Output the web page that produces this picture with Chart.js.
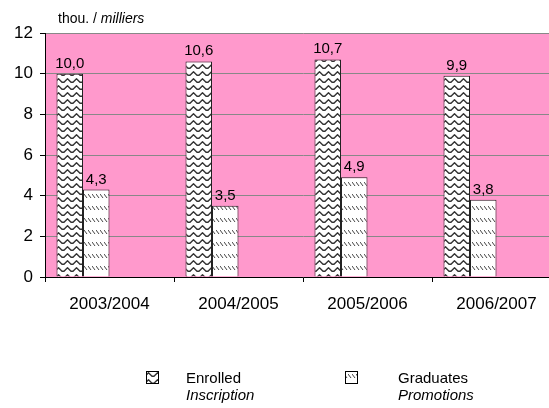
<!DOCTYPE html>
<html>
<head>
<meta charset="utf-8">
<script src="https://cdn.jsdelivr.net/npm/chart.js@4"></script>
<style>
  html, body { margin: 0; padding: 0; background: #fff; overflow: hidden; }
  #wrap { width: 562px; height: 408px; }
</style>
</head>
<body>
<div id="wrap"><canvas id="myChart" width="562" height="408"></canvas></div>
<script>
// data
var categories = ['2003/2004', '2004/2005', '2005/2006', '2006/2007'];
var enrolled = [10.0, 10.6, 10.7, 9.9];
var graduates = [4.3, 3.5, 4.9, 3.8];
var yTicks = [0, 2, 4, 6, 8, 10, 12];

var FONT = 'Liberation Sans, Arial, sans-serif';

// fill patterns like the excel ones
function wavePattern(ctx) {
  var c = document.createElement('canvas');
  c.width = 9; c.height = 7;
  var g = c.getContext('2d');
  g.fillStyle = '#fff';
  g.fillRect(0, 0, 9, 7);
  g.strokeStyle = '#333';
  g.lineWidth = 1.4;
  g.lineJoin = 'round';
  g.beginPath();
  g.moveTo(-1, 5.2);
  g.lineTo(1, 5.2);
  g.lineTo(4.5, 1.8);
  g.lineTo(8, 5.2);
  g.lineTo(10, 5.2);
  g.stroke();
  return ctx.createPattern(c, 'repeat');
}
function dashPattern(ctx) {
  var c = document.createElement('canvas');
  c.width = 4; c.height = 12;
  var g = c.getContext('2d');
  g.fillStyle = '#fff';
  g.fillRect(0, 0, 4, 12);
  g.strokeStyle = '#444';
  g.lineWidth = 1;
  g.beginPath();
  g.moveTo(0, 2); g.lineTo(3, 6);
  g.stroke();
  return ctx.createPattern(c, 'repeat');
}

var canvas = document.getElementById('myChart');
var cx = canvas.getContext('2d');
var pWave = wavePattern(cx);
var pDash = dashPattern(cx);

function fmt(v) { return v.toFixed(1).replace('.', ','); }

// pink plot background
var plotBg = {
  id: 'plotBg',
  beforeDraw: function (chart) {
    var a = chart.chartArea, c = chart.ctx;
    c.save();
    c.fillStyle = '#FF99CC';
    c.fillRect(a.left, a.top, a.right - a.left, a.bottom - a.top);
    c.restore();
  }
};

// value labels, title and legend
var extras = {
  id: 'extras',
  afterDatasetsDraw: function (chart) {
    var c = chart.ctx;
    c.save();
    c.fillStyle = '#000';
    c.font = '15px ' + FONT;
    c.textAlign = 'center';
    c.textBaseline = 'alphabetic';
    [0, 1].forEach(function (di) {
      var meta = chart.getDatasetMeta(di);
      var vals = chart.data.datasets[di].data;
      meta.data.forEach(function (bar, i) {
        c.fillText(fmt(vals[i]), bar.x, bar.y - 6);
      });
    });
    c.restore();
  },
  afterDraw: function (chart) {
    var c = chart.ctx;
    c.save();
    c.fillStyle = '#000';
    c.textAlign = 'left';
    c.textBaseline = 'alphabetic';
    // unit title
    c.font = '14px ' + FONT;
    c.fillText('thou. / ', 58, 23);
    var w = c.measureText('thou. / ').width;
    c.font = 'italic 14px ' + FONT;
    c.fillText('milliers', 58 + w, 23);

    // legend
    var items = [
      { x: 146, tx: 186, fill: pWave, a: 'Enrolled', b: 'Inscription' },
      { x: 345, tx: 398, fill: pDash, a: 'Graduates', b: 'Promotions' }
    ];
    items.forEach(function (it) {
      c.fillStyle = it.fill;
      c.fillRect(it.x, 371, 13, 13);
      c.strokeStyle = '#000';
      c.lineWidth = 1;
      c.strokeRect(it.x + 0.5, 371.5, 12, 12);
      c.fillStyle = '#000';
      c.font = '15px ' + FONT;
      c.fillText(it.a, it.tx, 383);
      c.font = 'italic 15px ' + FONT;
      c.fillText(it.b, it.tx, 400);
    });
    c.restore();
  }
};

var data = {
  labels: categories,
  datasets: [
    { label: 'Enrolled', data: enrolled, backgroundColor: pWave, borderColor: '#222', borderWidth: 1 },
    { label: 'Graduates', data: graduates, backgroundColor: pDash, borderColor: '#222', borderWidth: 1 },
    // excel left room for two more series, so the pair sits left in each category
    { label: '', data: [] },
    { label: '', data: [] }
  ]
};

var config = {
  type: 'bar',
  data: data,
  options: {
    responsive: false,
    animation: false,
    categoryPercentage: 106 / 129,
    barPercentage: 1,
    layout: { padding: { top: 33, right: 1, bottom: 91, left: 0 } },
    plugins: {
      legend: { display: false },
      tooltip: { enabled: false }
    },
    scales: {
      x: {
        offset: true,
        grid: {
          offset: true,
          drawOnChartArea: false,
          drawTicks: true,
          tickLength: 5,
          tickColor: '#000'
        },
        border: { color: '#000', width: 1 },
        ticks: {
          color: '#000',
          font: { family: FONT, size: 17 },
          padding: 12,
          maxRotation: 0
        },
        afterFit: function (s) { s.height = 40; }
      },
      y: {
        min: 0,
        max: 12,
        afterBuildTicks: function (s) { s.ticks = yTicks.map(function (v) { return { value: v }; }); },
        grid: {
          color: '#888',
          lineWidth: 1,
          tickLength: 5,
          tickColor: '#000'
        },
        border: { color: '#000', width: 1 },
        ticks: {
          color: '#000',
          font: { family: FONT, size: 17 },
          padding: 7
        },
        afterFit: function (s) { s.width = 45; }
      }
    }
  },
  plugins: [plotBg, extras]
};

var myChart = new Chart(canvas, config);
</script>
</body>
</html>
